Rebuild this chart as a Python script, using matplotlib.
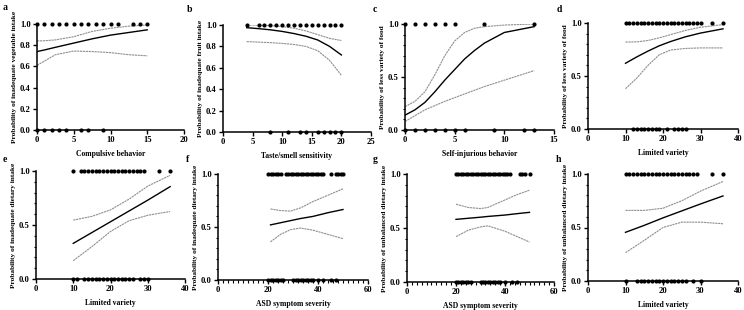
import matplotlib
matplotlib.use("Agg")
import matplotlib.pyplot as plt
from matplotlib.ticker import MultipleLocator
import numpy as np

plt.rcParams['font.family'] = ['Liberation Serif', 'DejaVu Serif']
plt.rcParams['font.weight'] = 'bold'

# ---------------- Data ----------------
# panel a
a_top = [0, 1, 2, 3, 4, 5, 6, 7, 8, 9, 10, 11, 13, 14, 15]
a_bot = [0, 1, 2, 3, 4, 6, 7, 9]
a_cx = [0, 1, 2.5, 5, 7.5, 10, 12.5, 15]
a_fit = [0.74, 0.755, 0.78, 0.82, 0.86, 0.895, 0.92, 0.945]
a_hi = [0.84, 0.842, 0.85, 0.88, 0.93, 0.96, 0.98, 0.99]
a_lo = [0.61, 0.65, 0.71, 0.745, 0.74, 0.73, 0.71, 0.70]

# panel b
b_top = [4, 6, 7, 8, 9, 10, 11, 12, 13, 14, 15, 16, 17, 18, 19, 20]
b_bot = [8, 11, 13, 14, 16, 17, 18, 19, 20]
b_cx = [4, 6, 8, 10, 12, 14, 16, 18, 20]
b_fit = [0.975, 0.966, 0.955, 0.94, 0.92, 0.895, 0.86, 0.80, 0.72]
b_hi = [1.0, 0.998, 0.995, 0.985, 0.97, 0.945, 0.91, 0.875, 0.855]
b_lo = [0.845, 0.84, 0.835, 0.828, 0.818, 0.80, 0.76, 0.67, 0.53]

# panel c
c_top = [0, 1, 2, 3, 4, 5, 8, 13]
c_bot = [0, 1, 2, 3, 4, 5, 6, 9, 12, 13]
c_cx = [0, 1, 2, 3, 4, 5, 6, 7, 8, 10, 13]
c_fit = [0.14, 0.19, 0.26, 0.36, 0.47, 0.57, 0.67, 0.75, 0.82, 0.92, 0.975]
c_hi = [0.22, 0.27, 0.36, 0.52, 0.70, 0.84, 0.92, 0.96, 0.975, 0.99, 1.0]
c_lo = [0.08, 0.135, 0.19, 0.23, 0.27, 0.305, 0.34, 0.375, 0.41, 0.47, 0.56]

# panel d
d_top = list(range(10, 31)) + [33, 36]
d_bot = [12, 13, 14, 15, 16, 17, 18, 19, 21, 23, 24, 25, 26]
d_cx = [10, 13, 16, 19, 22, 26, 30, 36]
d_fit = [0.62, 0.68, 0.735, 0.785, 0.825, 0.87, 0.905, 0.945]
d_hi = [0.82, 0.822, 0.835, 0.86, 0.89, 0.93, 0.96, 0.985]
d_lo = [0.38, 0.48, 0.60, 0.70, 0.745, 0.76, 0.765, 0.765]

# panel e
e_top = [10] + list(range(12, 30)) + [33, 36]
e_bot = [10, 11] + list(range(13, 27)) + [28, 29, 30]
e_cx = [10, 15, 20, 25, 30, 36]
e_fit = [0.33, 0.43, 0.53, 0.63, 0.73, 0.855]
e_hi = [0.545, 0.58, 0.64, 0.74, 0.86, 0.96]
e_lo = [0.17, 0.30, 0.44, 0.54, 0.59, 0.625]

# panel f
f_top = list(range(20, 26)) + list(range(27, 43)) + [45, 47, 48, 49, 50]
f_bot = list(range(20, 27)) + list(range(30, 39)) + [40, 42, 45, 47]
f_cx = [21, 25, 29, 33, 38, 44, 50]
f_fit = [0.52, 0.54, 0.56, 0.58, 0.60, 0.635, 0.665]
f_hi = [0.67, 0.655, 0.65, 0.68, 0.74, 0.80, 0.86]
f_lo = [0.36, 0.43, 0.475, 0.49, 0.47, 0.43, 0.39]

# panel g
g_top = list(range(20, 43)) + [46, 47, 48, 50]
g_bot = list(range(20, 27)) + list(range(30, 39)) + [40, 43, 45]
g_cx = [20, 25, 30, 33, 40, 45, 50]
g_fit = [0.58, 0.59, 0.60, 0.607, 0.62, 0.633, 0.645]
g_hi = [0.72, 0.69, 0.68, 0.69, 0.76, 0.81, 0.85]
g_lo = [0.42, 0.48, 0.51, 0.52, 0.47, 0.42, 0.37]

# panel h
h_top = list(range(10, 30)) + [33, 36]
h_bot = [10] + list(range(13, 27)) + [28, 30]
h_cx = [10, 15, 20, 25, 30, 36]
h_fit = [0.455, 0.52, 0.59, 0.655, 0.72, 0.795]
h_hi = [0.66, 0.66, 0.68, 0.75, 0.84, 0.93]
h_lo = [0.265, 0.38, 0.50, 0.55, 0.55, 0.535]

panels = [
    ("a", a_top, a_bot, a_cx, a_fit, a_hi, a_lo, "Compulsive behavior",
     "Probability of inadequate vegetable intake", 20, 5, None, 0.2, None),
    ("b", b_top, b_bot, b_cx, b_fit, b_hi, b_lo, "Taste/smell sensitivity",
     "Probability of inadequate fruit intake", 25, 5, None, 0.2, None),
    ("c", c_top, c_bot, c_cx, c_fit, c_hi, c_lo, "Self-injurious behavior",
     "Probability of less variety of food", 15, 5, None, 0.5, 0.1),
    ("d", d_top, d_bot, d_cx, d_fit, d_hi, d_lo, "Limited variety",
     "Probability of less variety of food", 40, 10, None, 0.5, 0.1),
    ("e", e_top, e_bot, e_cx, e_fit, e_hi, e_lo, "Limited variety",
     "Probability of inadequate dietary intake", 40, 10, None, 0.5, 0.1),
    ("f", f_top, f_bot, f_cx, f_fit, f_hi, f_lo, "ASD symptom severity",
     "Probability of inadequate dietary intake", 60, 20, 2, 0.5, 0.1),
    ("g", g_top, g_bot, g_cx, g_fit, g_hi, g_lo, "ASD symptom severity",
     "Probability of unbalanced dietary intake", 60, 20, 2, 0.5, 0.1),
    ("h", h_top, h_bot, h_cx, h_fit, h_hi, h_lo, "Limited variety",
     "Probability of unbalanced dietary intake", 40, 10, None, 0.5, 0.1),
]

# axes boxes in pixels: left, right, top, bottom
boxes = [
    (37, 184, 24, 130), (223, 371, 25, 132), (405, 554, 24, 130), (588, 738, 23, 129),
    (36, 185, 171, 279), (218, 368, 174, 280), (407, 554, 174, 282), (588, 738, 174, 281),
]
letter_pos = [(3, 8), (187, 9), (373, 9), (557, 9),
              (3, 159), (186, 160), (373, 160), (556, 160)]

W, H = 744, 310
fig = plt.figure(figsize=(W / 100, H / 100), dpi=100)

for (lab, top, bot, cx, fit, hi, lo, xl, yl, xmax, xmaj, xmin_, ymaj, ymin_), \
        (l, r, t, b), (lx, ly) in zip(panels, boxes, letter_pos):
    ax = fig.add_axes([l / W, (H - b) / H, (r - l) / W, (b - t) / H])
    ax.plot(cx, fit, color='black', lw=1.0, zorder=3)
    ax.plot(cx, hi, color='#8f8f8f', lw=0.8, ls=(0, (2, 0.6)), zorder=2)
    ax.plot(cx, lo, color='#8f8f8f', lw=0.8, ls=(0, (2, 0.6)), zorder=2)
    ax.plot(top, np.ones(len(top)), 'o', color='black', ms=3.0, mew=0, clip_on=False, zorder=5)
    ax.plot(bot, np.zeros(len(bot)), 'o', color='black', ms=3.0, mew=0, clip_on=False, zorder=5)
    ax.set_xlim(0, xmax)
    ax.set_ylim(0, 1.0)
    ax.xaxis.set_major_locator(MultipleLocator(xmaj))
    if xmin_:
        ax.xaxis.set_minor_locator(MultipleLocator(xmin_))
    ax.yaxis.set_major_locator(MultipleLocator(ymaj))
    if ymin_:
        ax.yaxis.set_minor_locator(MultipleLocator(ymin_))
    ax.set_yticklabels([f"{v:.1f}" for v in ax.get_yticks()])
    for s in ['top', 'right']:
        ax.spines[s].set_visible(False)
    for s in ['left', 'bottom']:
        ax.spines[s].set_linewidth(1.1)
    ax.tick_params(which='major', direction='out', length=3, width=1.0,
                   labelsize=6.2, pad=1.5)
    ax.tick_params(which='minor', direction='out', length=1.8, width=0.8)
    for tl in ax.get_xticklabels() + ax.get_yticklabels():
        tl.set_fontweight('bold')
    ax.set_xlabel(xl, fontsize=5.5, fontweight='bold', labelpad=4)
    ax.set_ylabel(yl, fontsize=5.3, fontweight='bold', labelpad=2)
    fig.text(lx / W, 1 - ly / H, lab, fontsize=7, fontweight='bold',
             ha='left', va='center')

fig.savefig("out.png", dpi=100)
